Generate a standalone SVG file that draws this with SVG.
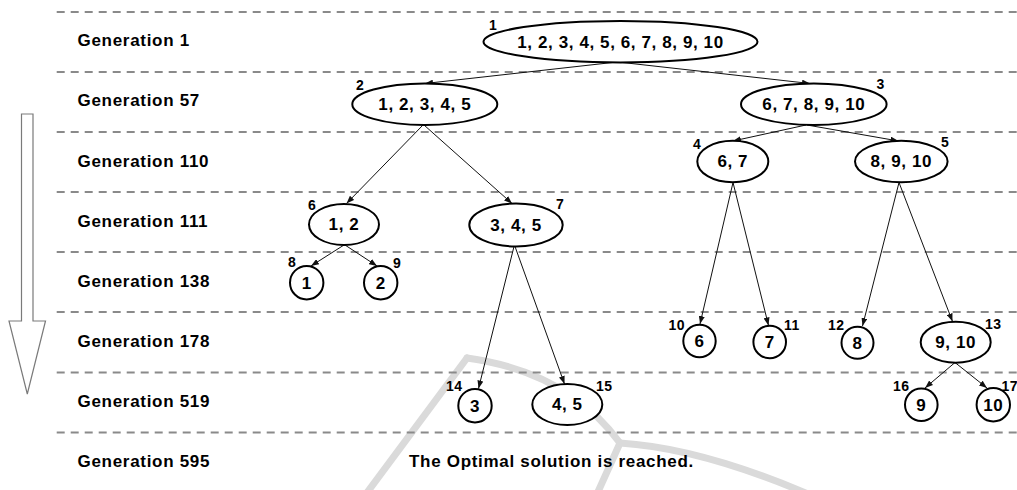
<svg xmlns="http://www.w3.org/2000/svg" width="1017" height="490" viewBox="0 0 1017 490">
  <style>
    .sep { stroke: #8a8a8a; stroke-width: 2; stroke-dasharray: 8 6; }
    .gen { font-family: "Liberation Sans", Arial, sans-serif; font-weight: bold; font-size: 17px; letter-spacing: 0.7px; fill: #000; }
    .node { fill: #fff; stroke: #000; stroke-width: 2; }
    .val { font-family: "Liberation Sans", Arial, sans-serif; font-weight: bold; font-size: 17px; letter-spacing: 0.6px; fill: #000; text-anchor: middle; }
    .num { font-family: "Liberation Sans", Arial, sans-serif; font-weight: bold; font-size: 14px; letter-spacing: 0.4px; fill: #000; }
    .edge { stroke: #111; stroke-width: 1; fill: none; marker-end: url(#tip); }
    .mark { stroke: #dadada; stroke-width: 7; fill: none; stroke-linecap: round; stroke-linejoin: round; }
  </style>
  <defs>
    <marker id="tip" markerWidth="8" markerHeight="6" refX="8" refY="3" orient="auto" markerUnits="userSpaceOnUse">
      <path d="M0,0 L8,3 L0,6 z" fill="#111"/>
    </marker>
  </defs>

  <rect width="1017" height="490" fill="#fff"/>

  <!-- faint background logo strokes -->
  <g id="backdrop">
    <path class="mark" d="M467,358 L366,494"/>
    <path class="mark" d="M467,358 Q568,372 620,443"/>
    <path class="mark" d="M620,443 L597,494"/>
    <path class="mark" d="M620,443 Q700,448 808,494"/>
  </g>

  <!-- generation separators -->
  <g id="separators">
    <line class="sep" x1="56.7" y1="12" x2="1017" y2="12"/>
    <line class="sep" x1="56.7" y1="72" x2="1017" y2="72"/>
    <line class="sep" x1="56.7" y1="132" x2="1017" y2="132"/>
    <line class="sep" x1="56.7" y1="192" x2="1017" y2="192"/>
    <line class="sep" x1="56.7" y1="252" x2="1017" y2="252"/>
    <line class="sep" x1="56.7" y1="312" x2="1017" y2="312"/>
    <line class="sep" x1="56.7" y1="372.5" x2="1017" y2="372.5"/>
    <line class="sep" x1="56.7" y1="432.5" x2="1017" y2="432.5"/>
  </g>

  <!-- time direction arrow -->
  <g id="time-arrow">
    <polygon points="21.5,114 33,114 33,321 45.5,321 27.3,394 9,321 21.5,321" fill="#fff" stroke="#7a7a7a" stroke-width="1.2"/>
  </g>

  <!-- generation labels -->
  <g id="generations">
    <text class="gen" x="77.5" y="46">Generation 1</text>
    <text class="gen" x="77.5" y="106">Generation 57</text>
    <text class="gen" x="77.5" y="167">Generation 110</text>
    <text class="gen" x="77.5" y="227">Generation 111</text>
    <text class="gen" x="77.5" y="287">Generation 138</text>
    <text class="gen" x="77.5" y="347">Generation 178</text>
    <text class="gen" x="77.5" y="407">Generation 519</text>
    <text class="gen" x="77.5" y="467">Generation 595</text>
  </g>

  <!-- connectors -->
  <g id="connectors">
    <line class="edge" x1="617" y1="62" x2="425" y2="83.5"/>
    <line class="edge" x1="618" y1="62" x2="810" y2="83.5"/>
    <line class="edge" x1="423" y1="125" x2="346.5" y2="203.5"/>
    <line class="edge" x1="424" y1="125" x2="512" y2="203.5"/>
    <line class="edge" x1="806" y1="125" x2="733" y2="141"/>
    <line class="edge" x1="807" y1="125" x2="898.5" y2="141"/>
    <line class="edge" x1="733" y1="182.5" x2="700" y2="324"/>
    <line class="edge" x1="733" y1="182.5" x2="768.5" y2="325.5"/>
    <line class="edge" x1="899" y1="182.5" x2="862.5" y2="326"/>
    <line class="edge" x1="899" y1="182.5" x2="952.5" y2="321.5"/>
    <line class="edge" x1="344" y1="245" x2="311" y2="266"/>
    <line class="edge" x1="345" y1="245" x2="377" y2="266"/>
    <line class="edge" x1="514" y1="246.5" x2="478.5" y2="388.5"/>
    <line class="edge" x1="515" y1="246.5" x2="564.5" y2="384"/>
    <line class="edge" x1="955" y1="362.5" x2="925" y2="388"/>
    <line class="edge" x1="955" y1="362.5" x2="987" y2="388"/>
  </g>

  <!-- nodes -->
  <g id="n1">
    <ellipse class="node" cx="620.5" cy="41.7" rx="137" ry="20.7"/>
    <text class="val" x="620.5" y="47.5">1, 2, 3, 4, 5, 6, 7, 8, 9, 10</text>
    <text class="num" x="489" y="30">1</text>
  </g>
  <g id="n2">
    <ellipse class="node" cx="424.8" cy="104.2" rx="72.5" ry="20.8"/>
    <text class="val" x="424.8" y="109.7">1, 2, 3, 4, 5</text>
    <text class="num" x="356" y="89.5">2</text>
  </g>
  <g id="n3">
    <ellipse class="node" cx="813.8" cy="104.2" rx="72.8" ry="20.8"/>
    <text class="val" x="813.8" y="109.7">6, 7, 8, 9, 10</text>
    <text class="num" x="876.5" y="89">3</text>
  </g>
  <g id="n4">
    <ellipse class="node" cx="732.8" cy="161.5" rx="35.5" ry="20.8"/>
    <text class="val" x="732.8" y="167">6, 7</text>
    <text class="num" x="693" y="149">4</text>
  </g>
  <g id="n5">
    <ellipse class="node" cx="901.3" cy="161.5" rx="46.3" ry="20.8"/>
    <text class="val" x="901.3" y="167">8, 9, 10</text>
    <text class="num" x="941" y="146.5">5</text>
  </g>
  <g id="n6">
    <ellipse class="node" cx="344" cy="224.5" rx="35" ry="20.5"/>
    <text class="val" x="344" y="230">1, 2</text>
    <text class="num" x="308" y="209.5">6</text>
  </g>
  <g id="n7">
    <ellipse class="node" cx="516" cy="225" rx="46.7" ry="21.5"/>
    <text class="val" x="516" y="230.5">3, 4, 5</text>
    <text class="num" x="556" y="209">7</text>
  </g>
  <g id="n8">
    <circle class="node" cx="306.7" cy="282.7" r="16.7"/>
    <text class="val" x="306.7" y="288.7">1</text>
    <text class="num" x="288" y="266.5">8</text>
  </g>
  <g id="n9">
    <circle class="node" cx="380.7" cy="282.7" r="16.7"/>
    <text class="val" x="380.7" y="288.7">2</text>
    <text class="num" x="393" y="268">9</text>
  </g>
  <g id="n10">
    <circle class="node" cx="699.5" cy="341" r="16.2"/>
    <text class="val" x="699.5" y="347">6</text>
    <text class="num" x="668.5" y="330">10</text>
  </g>
  <g id="n11">
    <circle class="node" cx="769.7" cy="342" r="16.3"/>
    <text class="val" x="769.7" y="348">7</text>
    <text class="num" x="784" y="330">11</text>
  </g>
  <g id="n12">
    <circle class="node" cx="857.5" cy="342.8" r="16"/>
    <text class="val" x="857.5" y="348.8">8</text>
    <text class="num" x="828" y="329.5">12</text>
  </g>
  <g id="n13">
    <ellipse class="node" cx="955.7" cy="342.2" rx="35" ry="20.5"/>
    <text class="val" x="955.7" y="347.7">9, 10</text>
    <text class="num" x="985" y="328.5">13</text>
  </g>
  <g id="n14">
    <circle class="node" cx="475" cy="405.7" r="16.7"/>
    <text class="val" x="475" y="411.7">3</text>
    <text class="num" x="446" y="390.5">14</text>
  </g>
  <g id="n15">
    <ellipse class="node" cx="567.3" cy="404.5" rx="35" ry="20.5"/>
    <text class="val" x="567.3" y="410">4, 5</text>
    <text class="num" x="596" y="391">15</text>
  </g>
  <g id="n16">
    <circle class="node" cx="921.3" cy="404.7" r="16.3"/>
    <text class="val" x="921.3" y="410.7">9</text>
    <text class="num" x="893" y="391">16</text>
  </g>
  <g id="n17">
    <circle class="node" cx="993.3" cy="404.7" r="16.7"/>
    <text class="val" x="993.3" y="410.7">10</text>
    <text class="num" x="1001.5" y="391">17</text>
  </g>

  <!-- closing statement -->
  <g id="result">
    <text class="gen" x="409" y="466.7">The Optimal solution is reached.</text>
  </g>
</svg>
